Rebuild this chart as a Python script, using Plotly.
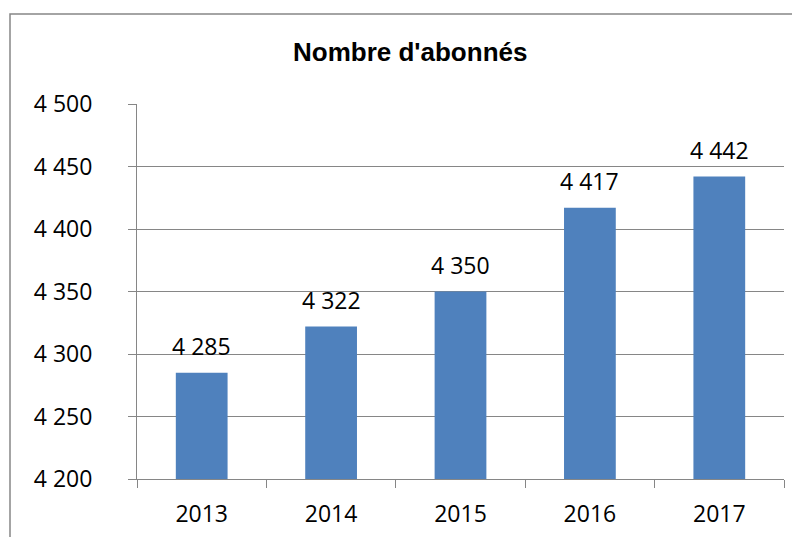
import plotly.graph_objects as go

years = ["2013", "2014", "2015", "2016", "2017"]
subscribers = [4285, 4322, 4350, 4417, 4442]
y_ticks = [4200, 4250, 4300, 4350, 4400, 4450, 4500]
title_text = "Nombre d'abonnés"

def fmt(v):
    return f"{v:,}".replace(",", " ")

W, H = 800, 537
OFF = 8  # page body margin
L, R, T, B = 137 - OFF, 784 - OFF, 104 - OFF, 479 - OFF
pw, ph = R - L, B - T

def px_x(p):
    return (p - OFF - L) / pw

def px_y(p):
    return (B - (p - OFF)) / ph

grid = "#868686"
label_font = dict(family="Open Sans", size=23, color="#000000")

fig = go.Figure()
fig.add_trace(go.Bar(
    x=years, y=subscribers,
    marker=dict(color="#4F81BD", line=dict(width=0)),
    hoverinfo="skip",
))

annotations = [
    dict(x=i, y=v, xref="x", yref="y", text=fmt(v), showarrow=False,
         yanchor="bottom", yshift=9, font=label_font)
    for i, v in enumerate(subscribers)
]
annotations.append(dict(
    x=px_x(410), y=px_y(52), xref="paper", yref="paper", text=title_text,
    showarrow=False, xanchor="center", yanchor="middle",
    font=dict(family="Liberation Sans, Arial", size=26, color="#000000", weight="bold"),
))

fig.update_layout(
    width=W, height=H,
    margin=dict(l=L, r=W - R, t=T, b=H - B, pad=0, autoexpand=False),
    paper_bgcolor="white", plot_bgcolor="white",
    showlegend=False,
    bargap=0.6,
    annotations=annotations,
    shapes=[dict(type="rect", xref="paper", yref="paper",
                 x0=px_x(10), x1=px_x(830), y0=px_y(14), y1=px_y(560),
                 line=dict(color=grid, width=1.5), fillcolor="rgba(0,0,0,0)",
                 layer="below")],
)
fig.update_yaxes(
    range=[4200, 4500], tickvals=y_ticks, ticktext=[fmt(v) for v in y_ticks],
    showgrid=True, gridcolor=grid, gridwidth=1,
    showline=True, linecolor=grid, linewidth=1,
    ticks="outside", ticklen=8, tickcolor=grid,
    tickfont=label_font, ticklabelstandoff=31, zeroline=False, automargin=False,
)
fig.update_xaxes(
    type="category", range=[-0.5, len(years) - 0.5],
    showline=True, linecolor=grid, linewidth=1,
    ticks="outside", ticklen=8, tickcolor=grid, tickson="boundaries",
    tickfont=label_font, ticklabelstandoff=14, showgrid=False, automargin=False,
    tickangle=0,
)

fig.write_html("out.html")
